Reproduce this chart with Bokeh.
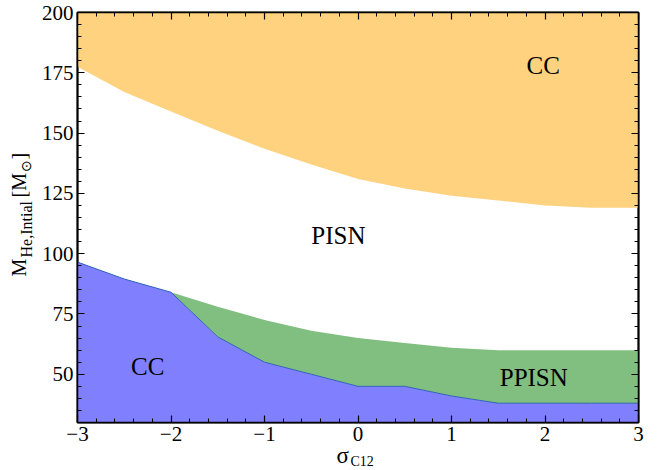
import math
from bokeh.plotting import figure
from bokeh.models import Range1d, FixedTicker, LinearAxis, Label, ColumnDataSource
from bokeh.core.properties import value
from bokeh.embed import file_html
from bokeh.resources import INLINE

# ---- data ----
sigma = [-3, -2.5, -2, -1.5, -1, -0.5, 0, 0.5, 1, 1.5, 2, 2.5, 3]
cc_high_lower = [177.5, 167, 159, 151, 143.5, 137, 131, 127, 124, 122, 120, 119, 119]
cc_low_upper = [96.5, 89.5, 84, 65.5, 55, 50, 45, 45, 41, 38, 38, 38, 38]
sigma_pp = [-2, -1.5, -1, -0.5, 0, 0.5, 1, 1.5, 2, 2.5, 3]
ppisn_upper = [84, 78, 72.5, 68, 65, 63, 61, 60, 60, 60, 60]
x_ticks = [-3, -2, -1, 0, 1, 2, 3]
y_ticks = [50, 75, 100, 125, 150, 175, 200]
y_min, y_max = 30, 200

FONT = "Liberation Serif"

p = figure(width=665, height=470, output_backend="svg", toolbar_location=None,
           x_range=Range1d(-3, 3), y_range=Range1d(y_min, y_max),
           min_border_left=77, min_border_right=27, min_border_top=12, min_border_bottom=48,
           x_axis_location=None, y_axis_location=None)
p.grid.visible = False
p.outline_line_color = "black"
p.outline_line_width = 2
p.background_fill_color = "white"
p.border_fill_color = "white"

# regions
cc_low_base = [y_min] * len(sigma)
cc_top = [y_max] * len(sigma)
p.varea(x=sigma, y1=cc_high_lower, y2=cc_top, fill_color="#ffd280")
p.varea(x=sigma, y1=cc_low_base, y2=cc_low_upper, fill_color="#8080ff")
pp_lower = cc_low_upper[sigma.index(sigma_pp[0]):]
p.varea(x=sigma_pp, y1=pp_lower, y2=ppisn_upper, fill_color="#80bf80")
p.line(x=sigma, y=cc_low_upper, line_color="#3060b8", line_width=1)

# axes
x_minor = [round(-3 + 0.2 * i, 1) for i in range(31)]
y_minor = list(range(30, 201, 5))
overrides = {t: (("\u2212" + str(-t)) if t < 0 else str(t)) for t in x_ticks}

def style(ax, labels=True):
    ax.axis_line_color = "black"
    ax.axis_line_width = 1.5
    ax.major_tick_in = 7
    ax.major_tick_out = 0
    ax.minor_tick_in = 4
    ax.minor_tick_out = 0
    ax.major_tick_line_width = 1.2
    ax.minor_tick_line_width = 1
    ax.major_tick_line_color = "black"
    ax.minor_tick_line_color = "black"
    if labels:
        ax.major_label_text_font = FONT
        ax.major_label_text_font_size = "21px"
        ax.major_label_text_color = "black"
        ax.major_label_standoff = 4
    else:
        ax.major_label_text_font_size = "0px"
        ax.major_label_standoff = 0
        ax.major_label_text_alpha = 0

xb = LinearAxis(ticker=FixedTicker(ticks=x_ticks, minor_ticks=x_minor),
                major_label_overrides=overrides)
xt = LinearAxis(ticker=FixedTicker(ticks=x_ticks, minor_ticks=x_minor))
yl = LinearAxis(ticker=FixedTicker(ticks=y_ticks, minor_ticks=y_minor))
yr = LinearAxis(ticker=FixedTicker(ticks=y_ticks, minor_ticks=y_minor))
style(xb); style(yl); style(xt, False); style(yr, False)
p.add_layout(xb, "below")
p.add_layout(xt, "above")
p.add_layout(yl, "left")
p.add_layout(yr, "right")

# region labels
def txt(x, y, s, size="25px"):
    p.add_layout(Label(x=x, y=y, text=s, text_font=FONT, text_font_size=size,
                       text_align="center", text_baseline="middle", text_color="black"))

txt(1.98, 178, "CC")
txt(-0.21, 107.5, "PISN")
txt(1.88, 48.7, "PPISN")
txt(-2.25, 53.2, "CC")

# axis titles, as text glyphs drawn at the overlay level (page px -> data)
def dx(px):
    return -3 + (px - 77) / 93.5

def dy(py):
    return y_max - (py - 12) / 2.412

def pieces(items, size, angle):
    src = ColumnDataSource(dict(x=[dx(i[0]) for i in items], y=[dy(i[1]) for i in items],
                                t=[i[2] for i in items]))
    return p.text(x="x", y="y", text="t", source=src, angle=angle,
                  text_font=value(FONT), text_font_size=size, text_align="left",
                  text_baseline="middle", text_color="black", level="overlay")

a = math.pi / 2
pieces([(18, 276, "M"), (18, 197, "[M"), (18, 159, "]")], "20px", a)
pieces([(26, 257, "He,Intial")], "16px", a)
pieces([(26, 172, "\u2299")], "14px", a)
pieces([(336, 455, "\u03c3")], "23px", 0.0)
pieces([(350, 461, "C12")], "14px", 0.0)

open("out.html", "w").write(file_html(p, INLINE))
